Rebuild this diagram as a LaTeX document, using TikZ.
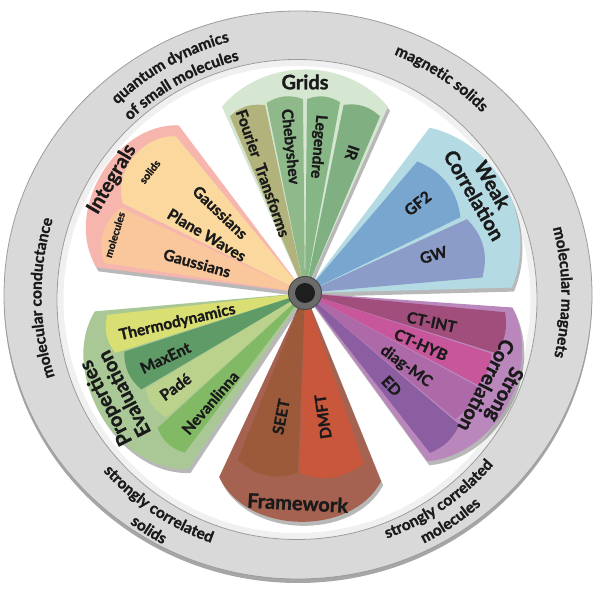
\documentclass[tikz,border=0pt]{standalone}
\usepackage{fontspec}
\setmainfont{Lato}[BoldFeatures={FakeBold=1.3}]
\usetikzlibrary{shadows,decorations.text,calc}
\definecolor{ringgray}{HTML}{D9D9D9}
\definecolor{ringedge}{HTML}{9C9C9C}
\definecolor{gridsG}{HTML}{D5E6D1}
\definecolor{fourierC}{HTML}{B1B27C}
\definecolor{chebC}{HTML}{8FB98A}
\definecolor{legC}{HTML}{87B686}
\definecolor{irC}{HTML}{80B081}
\definecolor{intG}{HTML}{F6B6AE}
\definecolor{solidsC}{HTML}{FAD89E}
\definecolor{molC}{HTML}{F9C79B}
\definecolor{weakG}{HTML}{B4DAE4}
\definecolor{gftwoC}{HTML}{78A6CF}
\definecolor{gwC}{HTML}{8B9CC8}
\definecolor{strongG}{HTML}{B987BC}
\definecolor{ctintC}{HTML}{A24E7C}
\definecolor{cthybC}{HTML}{C8569A}
\definecolor{diagC}{HTML}{AE69A8}
\definecolor{edC}{HTML}{8A5EA1}
\definecolor{fwG}{HTML}{A66250}
\definecolor{seetC}{HTML}{9C5A3B}
\definecolor{dmftC}{HTML}{C9573B}
\definecolor{propG}{HTML}{A9C896}
\definecolor{thermoC}{HTML}{D9DF72}
\definecolor{maxentC}{HTML}{5E9B66}
\definecolor{padeC}{HTML}{BBD28D}
\definecolor{nevC}{HTML}{82B965}
\definecolor{hubgray}{HTML}{6B6B6B}
\definecolor{hubedge}{HTML}{4A4A4A}
\definecolor{hubdark}{HTML}{1E1E1E}
\definecolor{txt}{HTML}{1A1A1A}
\newcommand\wdg[5]{\fill[#5] (0,0) -- (#1:#3) to[bend right=#4] (#2:#3) -- cycle;}
\newcommand\ringfont{\fontsize{15.5}{18}\selectfont\bfseries}
\newcommand\ringtext[4]{\path[decorate, decoration={text along path, text={|\ringfont|#4}, text color=txt, text align=center}] (#1:#3) arc[start angle=#1, end angle=#2, radius=#3];}
\begin{document}
\begin{tikzpicture}[x=1pt,y=1pt,
  grpsh/.style={drop shadow={shadow xshift=2pt, shadow yshift=-4pt, opacity=0.28, fill=black}},
  itm/.style={font=\fontsize{15.5}{17}\selectfont\bfseries, text=txt, inner sep=0pt},
  grptxt/.style={font=\fontsize{20}{21}\selectfont\bfseries, text=txt, align=center, inner sep=0pt},
  smalltxt/.style={font=\fontsize{10.5}{12}\selectfont\bfseries, text=txt, inner sep=0pt}]
\useasboundingbox (0,0) rectangle (597,601);
\fill[white] (0,0) rectangle (597,601);
% ring
\fill[ringgray, draw=ringedge, line width=0.8, drop shadow={shadow xshift=0pt, shadow yshift=-4pt, opacity=0.35, fill=black}] (298,306) ellipse [x radius=294, y radius=284];
\fill[white, draw=ringedge, line width=0.8] (297,301.5) circle (240);
\draw[black, opacity=0.06, line width=6] (297,301.5) circle (236.5);
% ring texts
\begin{scope}[shift={(298,306)}]
\ringtext{159.3}{79.3}{262.5}{quantum dynamics}
\ringtext{159}{79}{242}{of small molecules}
\ringtext{96.5}{16.5}{259}{magnetic solids}
\ringtext{40.6}{-39.4}{263.5}{molecular magnets}
\ringtext{220.7}{140.7}{256.5}{molecular conductance}
\ringtext{196.4}{276.4}{262.6}{strongly correlated}
\ringtext{197.6}{277.6}{283.6}{solids}
\ringtext{-95.5}{-15.5}{259.2}{strongly correlated}
\ringtext{-96}{-16}{278.6}{molecules}
\end{scope}
% wedges around the hub
\begin{scope}[shift={(305,308)}]
% Grids
\wdg{66}{114}{204}{50}{gridsG, grpsh}
\wdg{102}{113}{192}{25}{fourierC}
\wdg{90.6}{101.4}{194}{25}{chebC}
\wdg{79.6}{89.4}{194}{25}{legC}
\wdg{67}{78.4}{192}{25}{irC}
\node[grptxt] (tgrids) at (90:211) {Grids};
\node[itm, rotate=-70.7] (tfourier) at (109.3:127) {Fourier\ \ Transforms};
\node[itm, rotate=-84.1] (tcheb) at (95.9:147) {Chebyshev};
\node[itm, rotate=-95.1] (tleg) at (84.9:147) {Legendre};
\node[itm, rotate=-108.6] (tir) at (71.4:148) {IR};
% Integrals
\wdg{127}{173}{210}{62}{intG, grpsh}
\wdg{129.5}{153.8}{203}{55}{solidsC}
\wdg{155.2}{171.5}{203}{35}{molC}
\node[grptxt, rotate=59.5] (tint) at (149.5:224) {Integrals};
\node[smalltxt, rotate=52] (tsolids) at (142:197) {solids};
\node[smalltxt, rotate=73] (tmol) at (163:199) {molecules};
\node[itm, rotate=-43.6] (tgauss1) at (136.4:117) {Gaussians};
\node[itm, rotate=-30.6] (tplane) at (149.4:114) {Plane Waves};
\node[itm, rotate=-15.5] (tgauss2) at (164.5:112) {Gaussians};
% Weak correlation
\wdg{1.5}{53}{207}{50}{weakG, grpsh}
\wdg{26}{49.5}{173}{30}{gftwoC}
\wdg{5}{24.5}{178}{30}{gwC}
\node[grptxt, rotate=-60] (tweak) at (30:206) {Weak\\Correlation};
\node[itm, rotate=38.5] (tgf) at (38.5:144) {GF2};
\node[itm, rotate=16.5] (tgw) at (16.5:134) {GW};
% Strong correlation
\wdg{-54}{-4}{208}{56}{strongG, grpsh}
\wdg{-17.5}{-5.5}{201}{20}{ctintC}
\wdg{-28}{-18}{196}{20}{cthybC}
\wdg{-40}{-28.5}{196}{20}{diagC}
\wdg{-52}{-40.5}{203}{20}{edC}
\node[grptxt, rotate=-117] (tstrong) at (-27:214) {Strong\\Correlation};
\node[itm, rotate=-12] (tctint) at (-12.9:130) {CT-INT};
\node[itm, rotate=-24] (tcthyb) at (-24:127) {CT-HYB};
\node[itm, rotate=-36] (tdiag) at (-36:125) {diag-MC};
\node[itm, rotate=-47] (ted) at (-47:127) {ED};
% Framework
\wdg{-115}{-68}{203}{64}{fwG, grpsh}
\wdg{-112}{-92.3}{180}{30}{seetC}
\wdg{-91.7}{-71}{180}{30}{dmftC}
\node[grptxt, rotate=-3] (tfw) at (-92:210) {Framework};
\node[itm, rotate=79] (tseet) at (-101:126) {SEET};
\node[itm, rotate=98.3] (tdmft) at (-81.7:125) {DMFT};
% Properties evaluation
\wdg{185}{236.5}{211}{62}{propG, grpsh}
\wdg{186.3}{197.5}{199}{25}{thermoC}
\wdg{198}{210.5}{190}{25}{maxentC}
\wdg{211}{222}{186}{25}{padeC}
\wdg{222.5}{233}{200}{25}{nevC}
\node[grptxt, rotate=117] (tprop) at (209:218) {Properties\\Evaluation};
\node[itm, rotate=13] (tthermo) at (193:131) {Thermodynamics};
\node[itm, rotate=24.9] (tmaxent) at (204.9:154) {MaxEnt};
\node[itm, rotate=35.9] (tpade) at (215.9:160) {Padé};
\node[itm, rotate=49.2] (tnev) at (229.2:145) {Nevanlinna};
\end{scope}
% hub
\node[circle, fill=hubgray, draw=hubedge, line width=1, minimum size=33pt, inner sep=0pt] (hub) at (305,308) {};
\node[circle, fill=hubdark, minimum size=20pt, inner sep=0pt] (hubcore) at (hub) {};
\end{tikzpicture}
\end{document}
